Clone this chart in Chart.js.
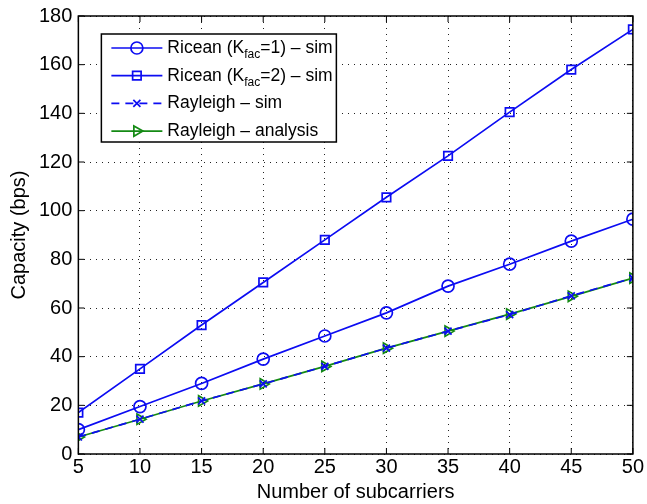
<!DOCTYPE html>
<html>
<head>
<meta charset="utf-8">
<script src="https://cdn.jsdelivr.net/npm/chart.js@4/dist/chart.umd.min.js"></script>
<style>
  html, body { margin: 0; padding: 0; background: #fff; }
  #wrap { width: 647px; height: 504px; }
</style>
</head>
<body>
<div id="wrap"><canvas id="chart" width="647" height="504"></canvas></div>
<script>
// DATA
const subcarriers = [5, 10, 15, 20, 25, 30, 35, 40, 45, 50];
const riceanK1 = [10, 19.5, 29, 39, 48.5, 58, 69, 78, 87.5, 96.5];
const riceanK2 = [17, 35, 53, 70.5, 88, 105.5, 122.5, 140.5, 158, 174.5];
const rayleighSim = [7, 14.3, 21.8, 28.8, 36, 43.5, 50.5, 57.3, 65, 72.3];
const rayleighAnalysis = [7, 14.3, 21.8, 28.8, 36, 43.5, 50.5, 57.5, 64.8, 72.3];
const xTicks = [5, 10, 15, 20, 25, 30, 35, 40, 45, 50];
const yTicks = [0, 20, 40, 60, 80, 100, 120, 140, 160, 180];

const BLUE = "#0c0cf2";
const GREEN = "#148a14";
const FONT = "'Liberation Sans', Arial, sans-serif";

const pts = (ys) => subcarriers.map((x, i) => ({ x: x, y: ys[i] }));

// legend rows: main text, subscript, rest
const legendRows = [
    { parts: ["Ricean (K", "fac", "=1) \u2013 sim"] },
    { parts: ["Ricean (K", "fac", "=2) \u2013 sim"] },
    { parts: ["Rayleigh \u2013 sim"] },
    { parts: ["Rayleigh \u2013 analysis"] },
];

// matlab-ish frame: box, inward ticks, legend
const matlabFrame = {
    id: "matlabFrame",
    afterDraw(chart) {
        const c = chart.ctx;
        const a = chart.chartArea;
        const xs = chart.scales.x;
        const ys = chart.scales.y;
        c.save();
        c.strokeStyle = "#000";
        c.lineWidth = 1.5;
        c.strokeRect(a.left, a.top, a.right - a.left, a.bottom - a.top);
        c.lineWidth = 1;
        c.beginPath();
        xTicks.forEach((v) => {
            const px = xs.getPixelForValue(v);
            c.moveTo(px, a.bottom); c.lineTo(px, a.bottom - 6);
            c.moveTo(px, a.top); c.lineTo(px, a.top + 6);
        });
        yTicks.forEach((v) => {
            const py = ys.getPixelForValue(v);
            c.moveTo(a.left, py); c.lineTo(a.left + 6, py);
            c.moveTo(a.right, py); c.lineTo(a.right - 6, py);
        });
        c.stroke();

        // legend box
        const bx = a.left + 23, by = a.top + 18, bw = 235, bh = 108;
        c.fillStyle = "#fff";
        c.fillRect(bx, by, bw, bh);
        c.lineWidth = 1.5;
        c.strokeRect(bx, by, bw, bh);
        const rowH = 27.7;
        chart.data.datasets.forEach((ds, i) => {
            const cy = by + 14 + i * rowH;
            const x0 = bx + 10, x1 = bx + 61;
            c.strokeStyle = ds.borderColor;
            c.lineWidth = 1.7;
            c.setLineDash(ds.borderDash || []);
            c.beginPath();
            c.moveTo(x0, cy); c.lineTo(x1, cy);
            c.stroke();
            c.setLineDash([]);
            c.fillStyle = "rgba(0,0,0,0)";
            Chart.helpers.drawPoint(c, {
                pointStyle: ds.pointStyle,
                radius: ds.pointRadius,
                rotation: ds.pointRotation || 0,
                borderWidth: 1.7,
            }, (x0 + x1) / 2, cy);
            // text
            c.fillStyle = "#000";
            c.textBaseline = "middle";
            let tx = x1 + 5;
            const parts = legendRows[i].parts;
            parts.forEach((p, k) => {
                if (k === 1) {
                    c.font = "12px " + FONT;
                    c.fillText(p, tx, cy + 7);
                } else {
                    c.font = "17.5px " + FONT;
                    c.fillText(p, tx, cy);
                }
                tx += c.measureText(p).width;
            });
        });
        c.restore();
    },
};

const ctx = document.getElementById("chart");

const chart = new Chart(ctx, {
    type: "line",
    data: {
        datasets: [
            {
                label: "Ricean (Kfac=1) - sim",
                data: pts(riceanK1),
                borderColor: BLUE,
                backgroundColor: "rgba(0,0,0,0)",
                borderWidth: 1.7,
                pointStyle: "circle",
                pointRadius: 6,
                pointBorderWidth: 1.7,
            },
            {
                label: "Ricean (Kfac=2) - sim",
                data: pts(riceanK2),
                borderColor: BLUE,
                backgroundColor: "rgba(0,0,0,0)",
                borderWidth: 1.7,
                pointStyle: "rect",
                pointRadius: 6,
                pointBorderWidth: 1.7,
            },
            {
                label: "Rayleigh - sim",
                data: pts(rayleighSim),
                borderColor: BLUE,
                backgroundColor: "rgba(0,0,0,0)",
                borderWidth: 1.7,
                borderDash: [8, 6],
                pointStyle: "crossRot",
                pointRadius: 5,
                pointBorderWidth: 1.7,
            },
            {
                label: "Rayleigh - analysis",
                data: pts(rayleighAnalysis),
                borderColor: GREEN,
                backgroundColor: "rgba(0,0,0,0)",
                borderWidth: 1.7,
                pointStyle: "triangle",
                pointRotation: 90,
                pointRadius: 6,
                pointBorderWidth: 1.7,
            },
        ],
    },
    options: {
        responsive: false,
        animation: false,
        layout: { padding: { left: 7, right: 3, top: 6, bottom: 0 } },
        plugins: {
            legend: { display: false },
            tooltip: { enabled: false },
        },
        scales: {
            x: {
                type: "linear",
                min: 5,
                max: 50,
                afterBuildTicks: (s) => { s.ticks = xTicks.map((v) => ({ value: v })); },
                grid: {
                    color: "#222",
                    drawTicks: false,
                },
                border: { display: false, dash: [1, 5] },
                ticks: {
                    color: "#000",
                    padding: 3,
                    font: { family: FONT, size: 20, lineHeight: 1.0 },
                },
                title: {
                    display: true,
                    text: "Number of subcarriers",
                    color: "#000",
                    padding: { top: 0, bottom: 0 },
                    font: { family: FONT, size: 20 },
                },
            },
            y: {
                min: 0,
                max: 180,
                afterBuildTicks: (s) => { s.ticks = yTicks.map((v) => ({ value: v })); },
                grid: {
                    color: "#222",
                    drawTicks: false,
                },
                border: { display: false, dash: [1, 5] },
                ticks: {
                    color: "#000",
                    padding: 6,
                    font: { family: FONT, size: 20, lineHeight: 1.0 },
                },
                title: {
                    display: true,
                    text: "Capacity (bps)",
                    color: "#000",
                    padding: { top: 0, bottom: 2 },
                    font: { family: FONT, size: 20 },
                },
            },
        },
    },
    plugins: [matlabFrame],
});
</script>
</body>
</html>
